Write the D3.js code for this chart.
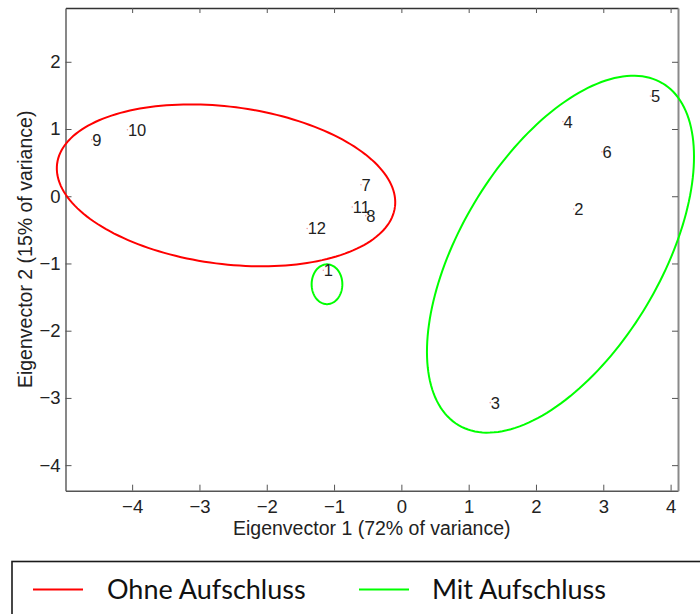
<!DOCTYPE html>
<html>
<head>
<meta charset="utf-8">
<script src="https://cdn.jsdelivr.net/npm/d3@7"></script>
<style>
  body { margin: 0; background: #ffffff; }
  svg { display: block; }
</style>
</head>
<body>
<div id="chart"></div>
<script>
// sample scores on the first two eigenvectors
const pointLabels = ["1", "2", "3", "4", "5", "6", "7", "8", "9", "10", "11", "12"];
const pointX = [-1.16, 2.56, 1.32, 2.40, 3.70, 2.98, -0.60, -0.53, -4.60, -4.07, -0.73, -1.40];
const pointY = [-1.10, -0.19, -3.07, 1.11, 1.49, 0.66, 0.17, -0.29, 0.84, 0.99, -0.16, -0.48];

// group ellipses: centre, semi axes, rotation (deg)
const ellipseGroup = ["Ohne Aufschluss", "Mit Aufschluss", "Mit Aufschluss"];
const ellipseCx = [-2.605, 2.364, -1.105];
const ellipseCy = [0.162, -0.862, -1.309];
const ellipseA = [2.53, 2.96, 0.228];
const ellipseB = [1.17, 1.49, 0.296];
const ellipseAngle = [-7.3, 59.2, 0];

const legendGroups = ["Ohne Aufschluss", "Mit Aufschluss"];
const xTicks = [-4, -3, -2, -1, 0, 1, 2, 3, 4];
const yTicks = [-4, -3, -2, -1, 0, 1, 2];
const xDomain = [-4.99, 4.11];
const yDomain = [-4.38, 2.80];

function renderScoresChart() {
    const outerWidth = 700;
    const outerHeight = 614;
    const margin = {top: 8, right: 22, bottom: 123.3, left: 65.5};
    const width = outerWidth - margin.left - margin.right;
    const height = outerHeight - margin.top - margin.bottom;
    const axisFont = "'Liberation Sans', Arial, sans-serif";
    const groupColor = d3.scaleOrdinal().domain(legendGroups).range(["#ff0000", "#00ff00"]);
    const minus = (d) => String(d).replace("-", "\u2212");

    const svg = d3.select("#chart")
        .append("svg")
        .attr("width", outerWidth)
        .attr("height", outerHeight);

    svg.append("rect")
        .attr("width", outerWidth)
        .attr("height", outerHeight)
        .attr("fill", "#ffffff");

    const plot = svg.append("g")
        .attr("transform", `translate(${margin.left}, ${margin.top})`);

    const x = d3.scaleLinear().domain(xDomain).range([0, width]);
    const y = d3.scaleLinear().domain(yDomain).range([height, 0]);

    // axes box with inward ticks on all sides
    plot.append("g")
        .attr("transform", `translate(0, ${height})`)
        .call(d3.axisBottom(x).tickValues(xTicks).tickSizeInner(-6).tickSizeOuter(0).tickPadding(9).tickFormat(minus))
        .call((g) => g.select(".domain").attr("stroke", "#555555").attr("stroke-width", 1.4))
        .call((g) => g.selectAll(".tick line").attr("stroke", "#555555"))
        .call((g) => g.selectAll("text").attr("font-family", axisFont).attr("font-size", 18.5).attr("fill", "#222222"));

    plot.append("g")
        .call(d3.axisTop(x).tickValues(xTicks).tickSizeInner(-5).tickSizeOuter(0).tickFormat(""))
        .call((g) => g.select(".domain").attr("stroke", "#333333").attr("stroke-width", 1.6))
        .call((g) => g.selectAll(".tick line").attr("stroke", "#555555"));

    plot.append("g")
        .call(d3.axisLeft(y).tickValues(yTicks).tickSizeInner(-6).tickSizeOuter(0).tickPadding(5).tickFormat(minus))
        .call((g) => g.select(".domain").attr("stroke", "#555555").attr("stroke-width", 1.4))
        .call((g) => g.selectAll(".tick line").attr("stroke", "#555555"))
        .call((g) => g.selectAll("text").attr("font-family", axisFont).attr("font-size", 18.5).attr("fill", "#222222"));

    plot.append("g")
        .attr("transform", `translate(${width}, 0)`)
        .call(d3.axisRight(y).tickValues(yTicks).tickSizeInner(-6).tickSizeOuter(0).tickFormat(""))
        .call((g) => g.select(".domain").attr("stroke", "#8a8a8a").attr("stroke-width", 2))
        .call((g) => g.selectAll(".tick line").attr("stroke", "#555555"));

    svg.append("text")
        .attr("x", margin.left + width / 2)
        .attr("y", 535)
        .attr("text-anchor", "middle")
        .attr("font-family", axisFont)
        .attr("font-size", 19.5)
        .attr("fill", "#222222")
        .text("Eigenvector 1 (72% of variance)");

    svg.append("text")
        .attr("transform", `translate(32, ${margin.top + height / 2}) rotate(-90)`)
        .attr("text-anchor", "middle")
        .attr("font-family", axisFont)
        .attr("font-size", 19.5)
        .attr("fill", "#222222")
        .text("Eigenvector 2 (15% of variance)");

    // ellipses
    const ellipseLine = d3.line()
        .x((d) => x(d[0]))
        .y((d) => y(d[1]));
    const angles = d3.range(0, 361, 2).map((deg) => deg * Math.PI / 180);

    ellipseGroup.forEach((group, index) => {
        const phi = ellipseAngle[index] * Math.PI / 180;
        const outline = angles.map((t) => {
            const u = ellipseA[index] * Math.cos(t);
            const v = ellipseB[index] * Math.sin(t);
            return [
                ellipseCx[index] + u * Math.cos(phi) - v * Math.sin(phi),
                ellipseCy[index] + u * Math.sin(phi) + v * Math.cos(phi),
            ];
        });
        plot.append("path")
            .datum(outline)
            .attr("fill", "none")
            .attr("stroke", groupColor(group))
            .attr("stroke-width", 2)
            .attr("d", ellipseLine);
    });

    // points and labels
    plot.selectAll(".score-dot")
        .data(pointLabels)
        .enter()
        .append("circle")
        .attr("class", "score-dot")
        .attr("cx", (d, i) => x(pointX[i]))
        .attr("cy", (d, i) => y(pointY[i]))
        .attr("r", 0.8)
        .attr("fill", "#f4a0a0");

    plot.selectAll(".score-label")
        .data(pointLabels)
        .enter()
        .append("text")
        .attr("class", "score-label")
        .attr("x", (d, i) => x(pointX[i]) + 0.5)
        .attr("y", (d, i) => y(pointY[i]))
        .attr("dy", "0.36em")
        .attr("font-family", axisFont)
        .attr("font-size", 16.5)
        .attr("fill", "#222222")
        .text((d) => d);

    // legend box
    const legend = svg.append("g");
    legend.append("rect")
        .attr("x", 12)
        .attr("y", 561.5)
        .attr("width", 700)
        .attr("height", 80)
        .attr("fill", "#ffffff")
        .attr("stroke", "#1a1a1a")
        .attr("stroke-width", 1.6);

    const legendLineX = [33, 359];
    const legendTextX = [107, 432];
    legendGroups.forEach((group, index) => {
        legend.append("line")
            .attr("x1", legendLineX[index])
            .attr("x2", legendLineX[index] + 50)
            .attr("y1", 589.5)
            .attr("y2", 589.5)
            .attr("stroke", groupColor(group))
            .attr("stroke-width", 2);
        legend.append("text")
            .attr("x", legendTextX[index])
            .attr("y", 599)
            .attr("font-family", "Lato, 'Open Sans', sans-serif")
            .attr("font-size", 27)
            .attr("fill", "#111111")
            .text(group);
    });
}

renderScoresChart();
</script>
</body>
</html>
